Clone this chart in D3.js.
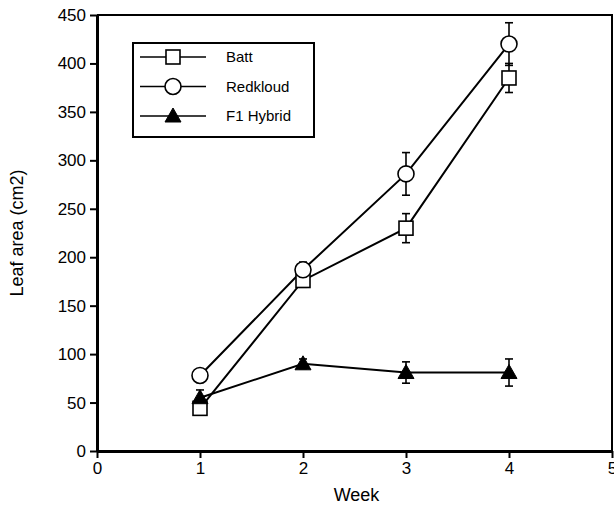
<!DOCTYPE html>
<html lang="en">
<head>
  <meta charset="UTF-8">
  <title>Leaf area</title>
  <script src="https://cdn.jsdelivr.net/npm/d3@7"></script>
  <style>
    body { margin: 0; background: #fff; }
    text { font-family: "Liberation Sans", Arial, sans-serif; }
  </style>
</head>
<body>
  <svg class="chart"></svg>
</body>
</html>
<script>
  var svgWidth = 614;
  var svgHeight = 510;

  var weeks = [1, 2, 3, 4];
  var seriesNames = ['Batt', 'Redkloud', 'F1 Hybrid'];
  var battValues = [44, 176, 230, 385];
  var battErrors = [6, 7, 15, 15];
  var redValues = [78, 187, 286, 420];
  var redErrors = [3, 8, 22, 22];
  var hybridValues = [55, 90, 81, 81];
  var hybridErrors = [8, 5, 11, 14];
  var xTicks = [0, 1, 2, 3, 4, 5];
  var yTicks = [0, 50, 100, 150, 200, 250, 300, 350, 400, 450];

  var margin = {top: 15, right: 2, bottom: 59, left: 97};
  var chartWidth = svgWidth - margin.left - margin.right;
  var chartHeight = svgHeight - margin.top - margin.bottom;

  var xScale = d3.scaleLinear().domain([0, 5]).range([0, chartWidth]);
  var yScale = d3.scaleLinear().domain([0, 450]).range([chartHeight, 0]);

  var svg = d3.select('.chart')
    .attr('width', svgWidth)
    .attr('height', svgHeight);

  var chart = svg.append('g')
    .attr('transform', 'translate(' + margin.left + ',' + margin.top + ')');

  // frame top and right
  chart.append('path')
    .attr('d', 'M0,0H' + chartWidth + 'V' + chartHeight)
    .attr('fill', 'none')
    .attr('stroke', '#000')
    .attr('stroke-width', 2);

  var xAxis = chart.append('g')
    .attr('transform', 'translate(0,' + chartHeight + ')')
    .call(d3.axisBottom(xScale).tickValues(xTicks).tickFormat(d3.format('d'))
      .tickSize(7).tickPadding(4).tickSizeOuter(0));
  var yAxis = chart.append('g')
    .call(d3.axisLeft(yScale).tickValues(yTicks).tickFormat(d3.format('d'))
      .tickSize(7).tickPadding(4).tickSizeOuter(0));

  [xAxis, yAxis].forEach(function(ax) {
    ax.select('.domain').attr('stroke-width', 3);
    ax.selectAll('line').attr('stroke-width', 2);
    ax.selectAll('text').attr('font-size', 17).attr('fill', '#000')
      .style('font-family', '"Liberation Sans", Arial, sans-serif');
  });

  svg.append('text')
    .attr('x', margin.left + chartWidth / 2 + 2)
    .attr('y', 501)
    .attr('text-anchor', 'middle')
    .attr('font-size', 18)
    .text('Week');

  svg.append('text')
    .attr('transform', 'translate(23,' + (margin.top + chartHeight / 2) + ') rotate(-90)')
    .attr('text-anchor', 'middle')
    .attr('font-size', 18)
    .text('Leaf area (cm2)');

  var series = [
    {name: seriesNames[0], values: battValues, errors: battErrors, shape: 'square'},
    {name: seriesNames[1], values: redValues, errors: redErrors, shape: 'circle'},
    {name: seriesNames[2], values: hybridValues, errors: hybridErrors, shape: 'triangle'}
  ];

  function drawMarker(g, shape) {
    if (shape === 'square') {
      g.append('rect').attr('x', -7).attr('y', -7).attr('width', 14).attr('height', 14)
        .attr('fill', '#fff').attr('stroke', '#000').attr('stroke-width', 1.6);
    } else if (shape === 'circle') {
      g.append('circle').attr('r', 8)
        .attr('fill', '#fff').attr('stroke', '#000').attr('stroke-width', 1.6);
    } else {
      g.append('path').attr('d', 'M0,-8L8,6H-8Z')
        .attr('fill', '#000').attr('stroke', '#000').attr('stroke-width', 1);
    }
  }

  var line = d3.line()
    .x(function(d, i) { return xScale(weeks[i]); })
    .y(function(d) { return yScale(d); });

  series.forEach(function(s) {
    var g = chart.append('g');
    // error bars
    weeks.forEach(function(w, i) {
      var x = xScale(w);
      var y1 = yScale(s.values[i] + s.errors[i]);
      var y0 = yScale(s.values[i] - s.errors[i]);
      g.append('line').attr('x1', x).attr('x2', x).attr('y1', y1).attr('y2', y0)
        .attr('stroke', '#000').attr('stroke-width', 1.6);
      g.append('line').attr('x1', x - 4).attr('x2', x + 4).attr('y1', y1).attr('y2', y1)
        .attr('stroke', '#000').attr('stroke-width', 1.6);
      g.append('line').attr('x1', x - 4).attr('x2', x + 4).attr('y1', y0).attr('y2', y0)
        .attr('stroke', '#000').attr('stroke-width', 1.6);
    });
    g.append('path')
      .attr('d', line(s.values))
      .attr('fill', 'none')
      .attr('stroke', '#000')
      .attr('stroke-width', 2);
  });

  series.forEach(function(s) {
    weeks.forEach(function(w, i) {
      var m = chart.append('g')
        .attr('transform', 'translate(' + xScale(w) + ',' + yScale(s.values[i]) + ')');
      drawMarker(m, s.shape);
    });
  });

  // legend
  var legend = svg.append('g').attr('transform', 'translate(133,43)');
  legend.append('rect')
    .attr('width', 181).attr('height', 94)
    .attr('fill', '#fff').attr('stroke', '#000').attr('stroke-width', 2);
  series.forEach(function(s, i) {
    var row = legend.append('g').attr('transform', 'translate(0,' + (14 + i * 29.5) + ')');
    row.append('line').attr('x1', 7).attr('x2', 73)
      .attr('stroke', '#000').attr('stroke-width', 1.6);
    drawMarker(row.append('g').attr('transform', 'translate(40,0)'), s.shape);
    row.append('text')
      .attr('x', 93).attr('y', 5)
      .attr('font-size', 15)
      .text(s.name);
  });
</script>
